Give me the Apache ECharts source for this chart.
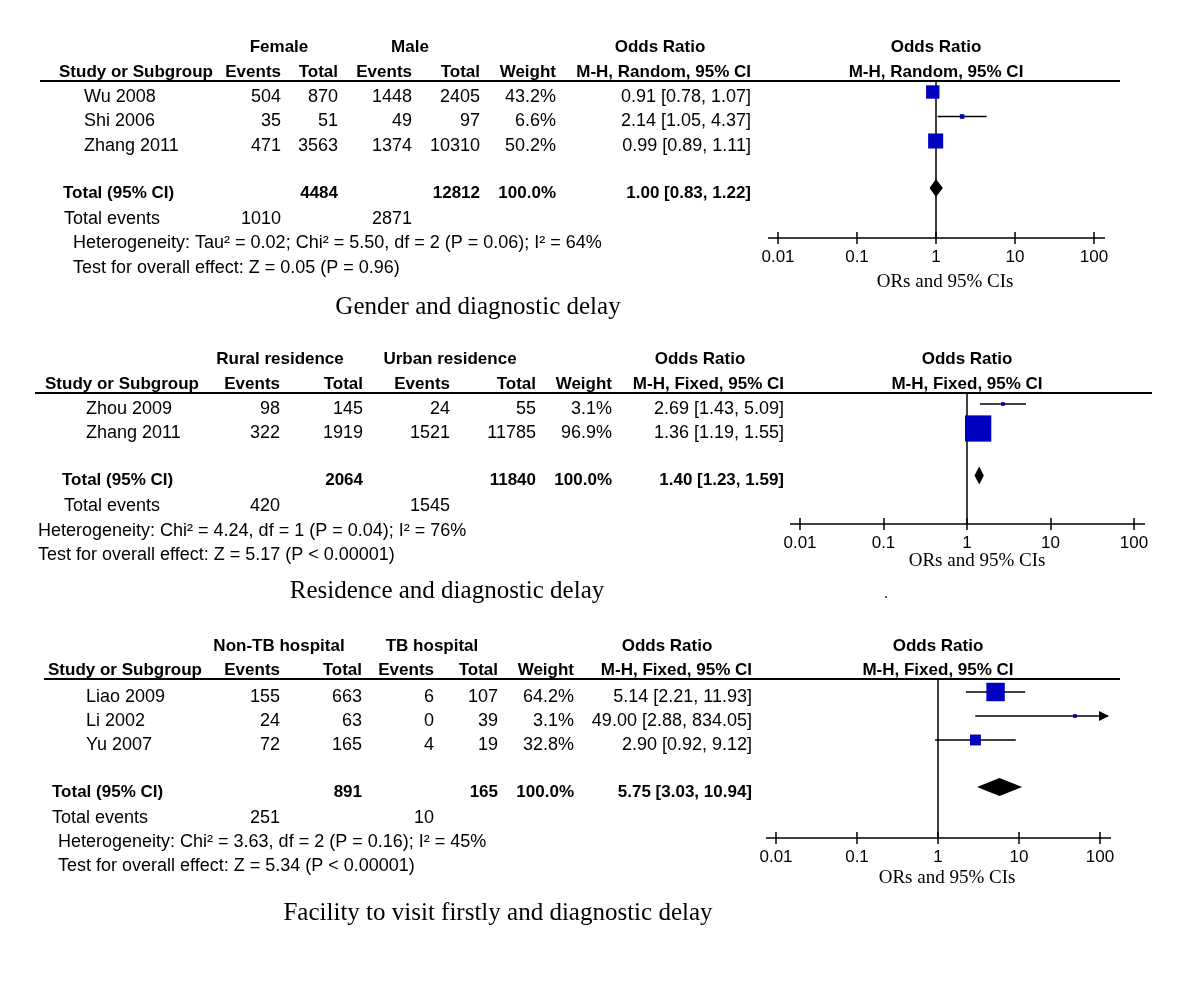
<!DOCTYPE html>
<html>
<head>
<meta charset="utf-8">
<title>Forest plots - diagnostic delay</title>
<style>
    html, body { margin: 0; padding: 0; background: #fff; }
    #main { width: 1200px; height: 992px; }
</style>
<script src="https://cdn.jsdelivr.net/npm/echarts@6/dist/echarts.min.js"></script>
</head>
<body>
<div id="main"></div>
<script>
    // ---- gender ----
    var genderGroups = ['Female', 'Male'];
    var genderStudies = ['Wu 2008', 'Shi 2006', 'Zhang 2011'];
    var genderEvents1 = [504, 35, 471];
    var genderTotal1 = [870, 51, 3563];
    var genderEvents2 = [1448, 49, 1374];
    var genderTotal2 = [2405, 97, 10310];
    var genderWeight = [43.2, 6.6, 50.2];
    var genderOR = [0.91, 2.14, 0.99];
    var genderLow = [0.78, 1.05, 0.89];
    var genderHigh = [1.07, 4.37, 1.11];
    var genderPooled = [1.00, 0.83, 1.22];
    var genderSums = [4484, 12812];
    var genderSumEvents = [1010, 2871];
    var genderHet = 'Heterogeneity: Tau\u00b2 = 0.02; Chi\u00b2 = 5.50, df = 2 (P = 0.06); I\u00b2 = 64%';
    var genderTest = 'Test for overall effect: Z = 0.05 (P = 0.96)';

    // ---- residence ----
    var resGroups = ['Rural residence', 'Urban residence'];
    var resStudies = ['Zhou 2009', 'Zhang 2011'];
    var resEvents1 = [98, 322];
    var resTotal1 = [145, 1919];
    var resEvents2 = [24, 1521];
    var resTotal2 = [55, 11785];
    var resWeight = [3.1, 96.9];
    var resOR = [2.69, 1.36];
    var resLow = [1.43, 1.19];
    var resHigh = [5.09, 1.55];
    var resPooled = [1.40, 1.23, 1.59];
    var resSums = [2064, 11840];
    var resSumEvents = [420, 1545];
    var resHet = 'Heterogeneity: Chi\u00b2 = 4.24, df = 1 (P = 0.04); I\u00b2 = 76%';
    var resTest = 'Test for overall effect: Z = 5.17 (P < 0.00001)';

    // ---- facility ----
    var facGroups = ['Non-TB hospital', 'TB hospital'];
    var facStudies = ['Liao 2009', 'Li 2002', 'Yu 2007'];
    var facEvents1 = [155, 24, 72];
    var facTotal1 = [663, 63, 165];
    var facEvents2 = [6, 0, 4];
    var facTotal2 = [107, 39, 19];
    var facWeight = [64.2, 3.1, 32.8];
    var facOR = [5.14, 49.00, 2.90];
    var facLow = [2.21, 2.88, 0.92];
    var facHigh = [11.93, 834.05, 9.12];
    var facPooled = [5.75, 3.03, 10.94];
    var facSums = [891, 165];
    var facSumEvents = [251, 10];
    var facHet = 'Heterogeneity: Chi\u00b2 = 3.63, df = 2 (P = 0.16); I\u00b2 = 45%';
    var facTest = 'Test for overall effect: Z = 5.34 (P < 0.00001)';

    var orTicks = ['0.01', '0.1', '1', '10', '100'];
    var OR_MIN = 0.01, OR_MAX = 100;

    var SANS = '"Liberation Sans", Arial, sans-serif';
    var SERIF = '"Liberation Serif", "Times New Roman", serif';

    var panels = [
        {
            groups: genderGroups, studies: genderStudies, e1: genderEvents1, t1: genderTotal1,
            e2: genderEvents2, t2: genderTotal2, w: genderWeight, or: genderOR, lo: genderLow, hi: genderHigh,
            pooled: genderPooled, sums: genderSums, sumEvents: genderSumEvents, het: genderHet, test: genderTest,
            method: 'M-H, Random, 95% CI', caption: 'Gender and diagnostic delay',
            L: {head1Y: 47, head2Y: 72, lineY: 81, lineX0: 40, lineX1: 1120, rowY0: 97, pitch: 24.5, totalGap: 47,
                evY: 219, hetY: 243, testY: 268, capX: 478, capY: 307,
                studyX: 59, nameX: 84, totalX: 63, evX: 64, hetX: 73,
                cols: [281, 338, 412, 480, 556, 751], grpX: [279, 410], orHeadX: 660,
                plotL: 778, plotR: 1094, axisY: 238, orsX: 945, orsY: 282}
        },
        {
            groups: resGroups, studies: resStudies, e1: resEvents1, t1: resTotal1,
            e2: resEvents2, t2: resTotal2, w: resWeight, or: resOR, lo: resLow, hi: resHigh,
            pooled: resPooled, sums: resSums, sumEvents: resSumEvents, het: resHet, test: resTest,
            method: 'M-H, Fixed, 95% CI', caption: 'Residence and diagnostic delay',
            L: {head1Y: 359, head2Y: 384, lineY: 393, lineX0: 35, lineX1: 1152, rowY0: 409, pitch: 24.5, totalGap: 47,
                evY: 506, hetY: 531, testY: 555, capX: 447, capY: 591,
                studyX: 45, nameX: 86, totalX: 62, evX: 64, hetX: 38,
                cols: [280, 363, 450, 536, 612, 784], grpX: [280, 450], orHeadX: 700,
                plotL: 800, plotR: 1134, axisY: 524, orsX: 977, orsY: 561}
        },
        {
            groups: facGroups, studies: facStudies, e1: facEvents1, t1: facTotal1,
            e2: facEvents2, t2: facTotal2, w: facWeight, or: facOR, lo: facLow, hi: facHigh,
            pooled: facPooled, sums: facSums, sumEvents: facSumEvents, het: facHet, test: facTest,
            method: 'M-H, Fixed, 95% CI', caption: 'Facility to visit firstly and diagnostic delay',
            L: {head1Y: 646, head2Y: 670, lineY: 679, lineX0: 44, lineX1: 1120, rowY0: 697, pitch: 24, totalGap: 47,
                evY: 818, hetY: 842, testY: 866, capX: 498, capY: 913,
                studyX: 48, nameX: 86, totalX: 52, evX: 52, hetX: 58,
                cols: [280, 362, 434, 498, 574, 752], grpX: [279, 432], orHeadX: 667,
                plotL: 776, plotR: 1100, axisY: 838, orsX: 947, orsY: 878}
        }
    ];

    function txt(s, x, y, align, opt) {
        opt = opt || {};
        return {
            type: 'text', silent: true,
            style: {
                text: s, x: x, y: y,
                textAlign: align || 'left', textVerticalAlign: 'middle',
                fontFamily: opt.family || SANS, fontSize: opt.size || (opt.bold ? 17 : 18),
                fontWeight: opt.bold ? 'bold' : 'normal', fill: '#000'
            }
        };
    }
    function hline(x0, x1, y, w) {
        return {type: 'line', silent: true, shape: {x1: x0, y1: y, x2: x1, y2: y}, style: {stroke: '#000', lineWidth: w}};
    }
    function ciText(v) {
        return v[0].toFixed(2) + ' [' + v[1].toFixed(2) + ', ' + v[2].toFixed(2) + ']';
    }

    // forest marks: [or, low, high, row, weight, isPooled]
    function renderForest(params, api) {
        var or = api.value(0), lo = api.value(1), hi = api.value(2), row = api.value(3), w = api.value(4);
        var c = api.coord([or, row]);
        var pLo = api.coord([lo, row]);
        var pHi = api.coord([Math.min(hi, OR_MAX), row]);
        var kids = [];
        if (api.value(5)) {
            var h = 9;
            kids.push({type: 'polygon', shape: {points: [[pLo[0], c[1]], [c[0], c[1] - h], [pHi[0], c[1]], [c[0], c[1] + h]]},
                style: {fill: '#000'}});
        } else {
            var x2 = pHi[0];
            if (hi > OR_MAX) x2 += 8;
            kids.push({type: 'line', shape: {x1: pLo[0], y1: c[1], x2: x2, y2: c[1]}, style: {stroke: '#000', lineWidth: 1.5}});
            if (hi > OR_MAX) {
                kids.push({type: 'polygon', shape: {points: [[x2 + 1, c[1]], [x2 - 9, c[1] - 5], [x2 - 9, c[1] + 5]]}, style: {fill: '#000'}});
            }
            var s = 3 + 0.24 * w;
            kids.push({type: 'rect', shape: {x: c[0] - s / 2, y: c[1] - s / 2, width: s, height: s}, style: {fill: '#0000c0'}});
        }
        return {type: 'group', children: kids};
    }

    var grids = [], xAxes = [], yAxes = [], series = [], graphics = [];

    panels.forEach(function (p, k) {
        var L = p.L, n = p.studies.length;
        var markY0 = L.rowY0 - 5;
        var yMin = -(markY0 - L.lineY) / L.pitch;
        var yMax = (L.axisY - markY0) / L.pitch;
        var totalRow = n - 1 + L.totalGap / L.pitch;

        // two identical grids per panel: one for the outward ticks, one for the inward ones
        grids.push({left: L.plotL, width: L.plotR - L.plotL, top: L.lineY, height: L.axisY - L.lineY, containLabel: false});
        grids.push({left: L.plotL, width: L.plotR - L.plotL, top: L.lineY, height: L.axisY - L.lineY, containLabel: false});
        var xBase = {
            type: 'log', logBase: 10, min: OR_MIN, max: OR_MAX, position: 'bottom',
            splitLine: {show: false}, minorTick: {show: false}
        };
        xAxes.push(Object.assign({}, xBase, {
            gridIndex: 2 * k,
            axisLine: {show: true, onZero: false, lineStyle: {color: '#000', width: 1.5}},
            axisTick: {show: true, inside: false, length: 6, lineStyle: {color: '#000', width: 1.5}},
            axisLabel: {show: true, margin: 11, color: '#000', fontSize: 17, fontFamily: SANS,
                formatter: function (v) { return orTicks[Math.round(Math.log10(v)) + 2]; }}
        }));
        xAxes.push(Object.assign({}, xBase, {
            gridIndex: 2 * k + 1,
            axisLine: {show: false, onZero: false},
            axisTick: {show: true, inside: true, length: 6, lineStyle: {color: '#000', width: 1.5}},
            axisLabel: {show: false}
        }));
        yAxes.push({type: 'value', gridIndex: 2 * k, inverse: true, min: yMin, max: yMax, show: false});
        yAxes.push({type: 'value', gridIndex: 2 * k + 1, inverse: true, min: yMin, max: yMax, show: false});

        var marks = [];
        for (var i = 0; i < n; i++) marks.push([p.or[i], p.lo[i], p.hi[i], i, p.w[i], 0]);
        marks.push([p.pooled[0], p.pooled[1], p.pooled[2], totalRow, 100, 1]);

        series.push({
            type: 'line', xAxisIndex: 2 * k, yAxisIndex: 2 * k, silent: true, symbol: 'none', animation: false,
            lineStyle: {color: '#000', width: 1.5}, data: [[1, yMin], [1, yMax]], z: 1
        });
        series.push({
            type: 'custom', xAxisIndex: 2 * k, yAxisIndex: 2 * k, renderItem: renderForest, clip: false,
            animation: false, silent: true, data: marks, z: 3
        });

        // table header
        graphics.push(txt(p.groups[0], L.grpX[0], L.head1Y, 'center', {bold: true}));
        graphics.push(txt(p.groups[1], L.grpX[1], L.head1Y, 'center', {bold: true}));
        graphics.push(txt('Odds Ratio', L.orHeadX, L.head1Y, 'center', {bold: true}));
        var midX = (L.plotL + L.plotR) / 2;
        graphics.push(txt('Odds Ratio', midX, L.head1Y, 'center', {bold: true}));
        graphics.push(txt('Study or Subgroup', L.studyX, L.head2Y, 'left', {bold: true}));
        ['Events', 'Total', 'Events', 'Total', 'Weight', p.method].forEach(function (h, j) {
            graphics.push(txt(h, L.cols[j], L.head2Y, 'right', {bold: true}));
        });
        graphics.push(txt(p.method, midX, L.head2Y, 'center', {bold: true}));
        graphics.push(hline(L.lineX0, L.lineX1, L.lineY, 2));

        // study rows
        for (var r = 0; r < n; r++) {
            var y = L.rowY0 + r * L.pitch;
            graphics.push(txt(p.studies[r], L.nameX, y, 'left'));
            var vals = [p.e1[r], p.t1[r], p.e2[r], p.t2[r], p.w[r].toFixed(1) + '%', ciText([p.or[r], p.lo[r], p.hi[r]])];
            vals.forEach(function (v, j) { graphics.push(txt(String(v), L.cols[j], y, 'right')); });
        }
        // total row
        var ty = L.rowY0 + (n - 1) * L.pitch + L.totalGap;
        graphics.push(txt('Total (95% CI)', L.totalX, ty, 'left', {bold: true}));
        graphics.push(txt(String(p.sums[0]), L.cols[1], ty, 'right', {bold: true}));
        graphics.push(txt(String(p.sums[1]), L.cols[3], ty, 'right', {bold: true}));
        graphics.push(txt('100.0%', L.cols[4], ty, 'right', {bold: true}));
        graphics.push(txt(ciText(p.pooled), L.cols[5], ty, 'right', {bold: true}));
        // total events and stats
        graphics.push(txt('Total events', L.evX, L.evY, 'left'));
        graphics.push(txt(String(p.sumEvents[0]), L.cols[0], L.evY, 'right'));
        graphics.push(txt(String(p.sumEvents[1]), L.cols[2], L.evY, 'right'));
        graphics.push(txt(p.het, L.hetX, L.hetY, 'left'));
        graphics.push(txt(p.test, L.hetX, L.testY, 'left'));
        graphics.push(txt(p.caption, L.capX, L.capY, 'center', {family: SERIF, size: 25}));

        // axis line overshoot and x title
        graphics.push(hline(L.plotL - 10, L.plotL, L.axisY, 1.5));
        graphics.push(hline(L.plotR, L.plotR + 11, L.axisY, 1.5));
        graphics.push(txt('ORs and 95% CIs', L.orsX, L.orsY, 'center', {family: SERIF, size: 19}));
    });

    // stray dot in the source figure
    graphics.push(txt('.', 886, 594, 'center', {size: 16}));

    var chart = echarts.init(document.getElementById('main'));
    chart.setOption({
        backgroundColor: '#fff',
        animation: false,
        grid: grids,
        xAxis: xAxes,
        yAxis: yAxes,
        series: series,
        graphic: graphics
    });
</script>
</body>
</html>
